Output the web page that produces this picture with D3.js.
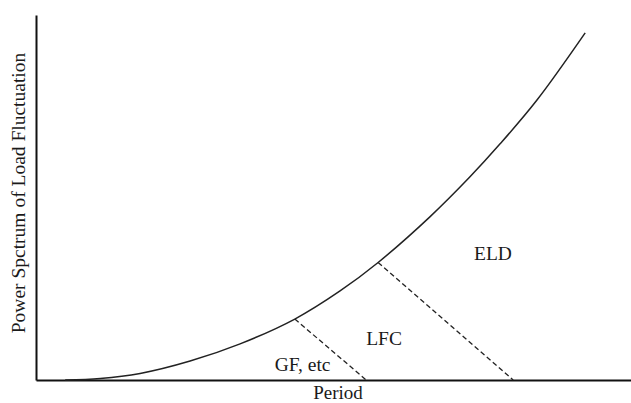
<!DOCTYPE html>
<html>
<head>
<meta charset="utf-8">
<script src="https://cdn.jsdelivr.net/npm/d3@7"></script>
<style>
  body { margin: 0; background: #fff; }
  svg text { font-family: "Liberation Serif", "Times New Roman", serif; fill: #1a1a1a; }
</style>
</head>
<body>
<svg id="chart" width="631" height="403"></svg>
<script>
// curve (period, power), axis units 0..100
const period = [4.9, 10.8, 17.5, 25.9, 34.3, 43.5, 51.1, 57.5, 66.2, 72.9, 78.0, 84.2, 92.3];
const power  = [0,   0.4,  1.8,  5.2,  9.9,  16.7, 24.4, 32.2, 44.7, 55.6, 64.7, 76.7, 95.1];

// dashed borders between regions: [from curve point, to foot on axis]
const borders = [
    { x1: 43.5, y1: 16.7, x2: 55.5, y2: 0 },
    { x1: 57.5, y1: 32.2, x2: 80.2, y2: 0 }
];

const regionNames = ["GF, etc", "LFC", "ELD"];
const regionX = [44.8, 58.5, 76.8];
const regionY = [2.5, 9.6, 32.9];

const svg = d3.select("#chart");
const x = d3.scaleLinear().domain([0, 100]).range([36, 631]);
const y = d3.scaleLinear().domain([0, 100]).range([380, 15]);

// axes, no ticks
svg.append("g")
    .attr("transform", `translate(0,${y(0)})`)
    .call(d3.axisBottom(x).ticks(0).tickSizeOuter(0))
    .select(".domain").attr("stroke", "#111").attr("stroke-width", 2);

svg.append("g")
    .attr("transform", `translate(${x(0)},0)`)
    .call(d3.axisLeft(y).ticks(0).tickSizeOuter(0))
    .select(".domain").attr("stroke", "#111").attr("stroke-width", 2);

const pts = period.map((p, i) => [p, power[i]]);
const line = d3.line()
    .x(d => x(d[0]))
    .y(d => y(d[1]))
    .curve(d3.curveCatmullRom);

svg.append("path")
    .datum(pts)
    .attr("fill", "none")
    .attr("stroke", "#222")
    .attr("stroke-width", 1.5)
    .attr("d", line);

svg.selectAll(".border")
    .data(borders)
    .enter()
    .append("line")
    .attr("class", "border")
    .attr("x1", d => x(d.x1)).attr("y1", d => y(d.y1))
    .attr("x2", d => x(d.x2)).attr("y2", d => y(d.y2))
    .attr("stroke", "#222")
    .attr("stroke-width", 1.3)
    .attr("stroke-dasharray", "5,3");

svg.selectAll(".region")
    .data(regionNames)
    .enter()
    .append("text")
    .attr("class", "region")
    .attr("x", (d, i) => x(regionX[i]))
    .attr("y", (d, i) => y(regionY[i]))
    .attr("text-anchor", "middle")
    .attr("font-size", 19.5)
    .text(d => d);

svg.append("text")
    .attr("x", 338)
    .attr("y", 399)
    .attr("text-anchor", "middle")
    .attr("font-size", 19)
    .text("Period");

svg.append("text")
    .attr("transform", "translate(25,193) rotate(-90)")
    .attr("text-anchor", "middle")
    .attr("font-size", 19.5)
    .text("Power Spctrum of Load Fluctuation");
</script>
</body>
</html>
